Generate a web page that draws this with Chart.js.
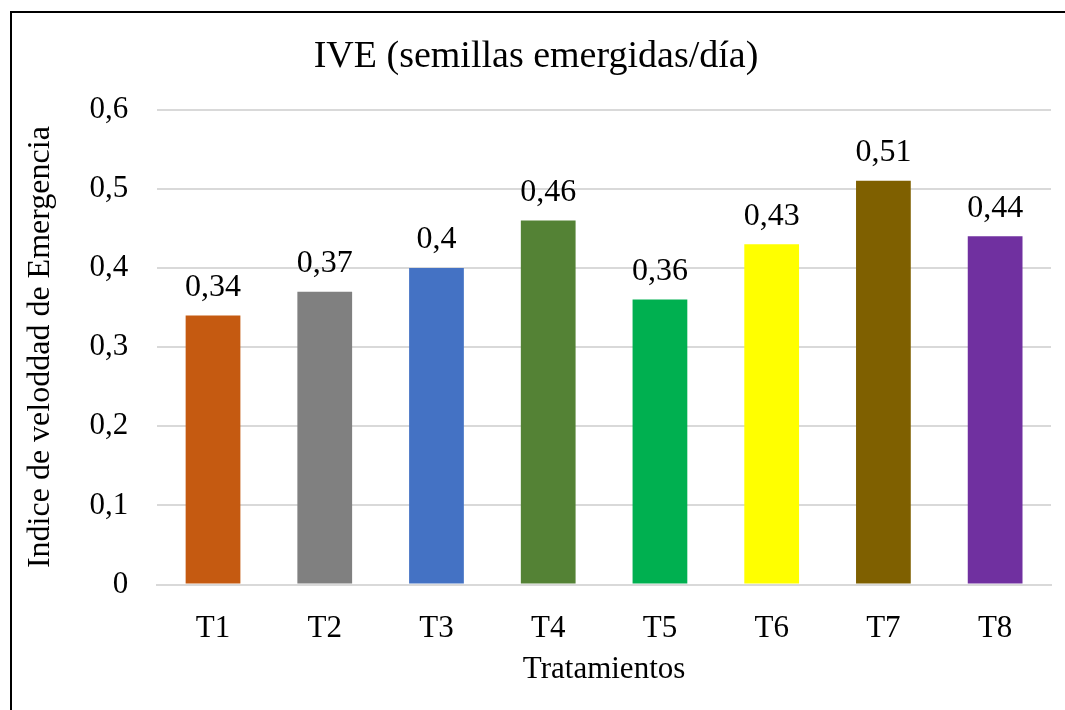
<!DOCTYPE html>
<html>
<head>
<meta charset="utf-8">
<script src="https://cdn.jsdelivr.net/npm/chart.js@4/dist/chart.umd.min.js"></script>
<style>
  html, body { margin: 0; padding: 0; background: #fff; }
  #wrap { width: 1065px; height: 710px; }
</style>
</head>
<body>
<div id="wrap"><canvas id="myChart" width="1065" height="710"></canvas></div>
<script>
const categories = ["T1", "T2", "T3", "T4", "T5", "T6", "T7", "T8"];
const ive = [0.34, 0.37, 0.40, 0.46, 0.36, 0.43, 0.51, 0.44];
const barColors = ["#C55A11", "#808080", "#4472C4", "#548235", "#00B050", "#FFFF00", "#7F6000", "#7030A0"];
const yTicks = [0, 0.1, 0.2, 0.3, 0.4, 0.5, 0.6];

const fmt = v => String(v).replace(".", ",");

// frame around the whole figure (left and top edges visible)
const framePlugin = {
    id: "frame",
    afterDraw(chart) {
        const ctx = chart.ctx;
        ctx.save();
        ctx.strokeStyle = "#000";
        ctx.lineWidth = 2;
        ctx.beginPath();
        ctx.moveTo(11, 720);
        ctx.lineTo(11, 12);
        ctx.lineTo(1075, 12);
        ctx.stroke();
        ctx.restore();
    }
};

// value labels above each bar
const valueLabels = {
    id: "valueLabels",
    afterDatasetsDraw(chart) {
        const ctx = chart.ctx;
        const meta = chart.getDatasetMeta(0);
        ctx.save();
        ctx.font = "32px 'Liberation Serif'";
        ctx.fillStyle = "#000";
        ctx.textAlign = "center";
        ctx.textBaseline = "middle";
        meta.data.forEach((bar, i) => {
            ctx.fillText(fmt(ive[i]), bar.x, bar.y - 28);
        });
        ctx.restore();
    }
};

new Chart(document.getElementById("myChart"), {
    type: "bar",
    data: {
        labels: categories,
        datasets: [{
            data: ive,
            backgroundColor: barColors,
            categoryPercentage: 1,
            barPercentage: 0.49
        }]
    },
    options: {
        responsive: false,
        animation: false,
        layout: { padding: { left: 21, right: 14, top: 34, bottom: 22 } },
        plugins: {
            legend: { display: false },
            tooltip: { enabled: false },
            title: {
                display: true,
                text: "IVE (semillas emergidas/día)",
                color: "#000",
                font: { family: "Liberation Serif", size: 38, weight: "normal" },
                padding: { top: 0, bottom: 30 }
            }
        },
        scales: {
            x: {
                grid: { display: false },
                border: { color: "#d9d9d9", width: 2 },
                ticks: { color: "#000", font: { family: "Liberation Serif", size: 31 }, padding: 18 },
                title: {
                    display: true,
                    text: "Tratamientos",
                    color: "#000",
                    font: { family: "Liberation Serif", size: 31 },
                    padding: { top: -15, bottom: 0 }
                }
            },
            y: {
                min: 0,
                max: 0.6,
                afterBuildTicks(axis) { axis.ticks = yTicks.map(v => ({ value: v })); },
                grid: { color: "#d9d9d9", lineWidth: 2, drawTicks: false },
                border: { display: false },
                ticks: {
                    color: "#000",
                    font: { family: "Liberation Serif", size: 31 },
                    padding: 29,
                    callback: v => fmt(Math.round(v * 10) / 10)
                },
                title: {
                    display: true,
                    text: "Indice de veloddad de Emergencia",
                    color: "#000",
                    font: { family: "Liberation Serif", size: 32 },
                    padding: { top: 0, bottom: 1 }
                }
            }
        }
    },
    plugins: [framePlugin, valueLabels]
});
</script>
</body>
</html>
